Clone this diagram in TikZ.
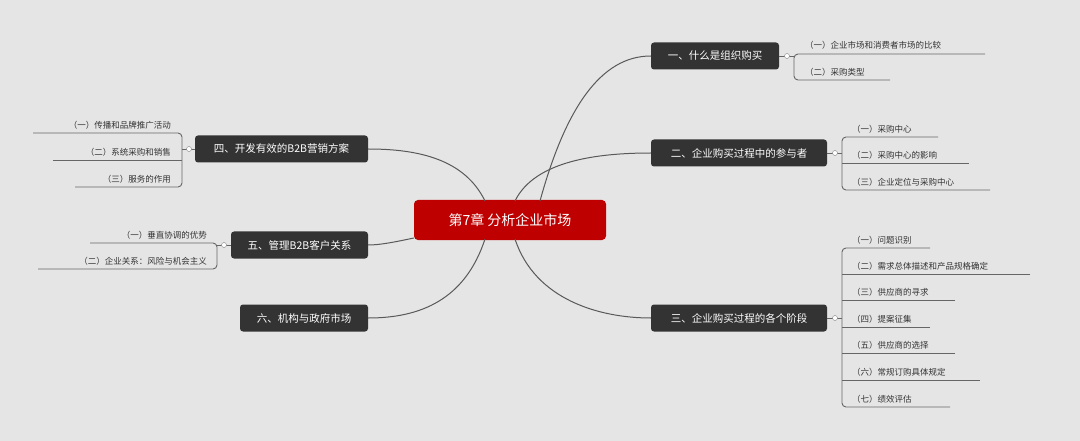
\documentclass[tikz,border=0pt]{standalone}
\usepackage{fontspec}
\setmainfont{Noto Sans CJK SC}
\begin{document}
\begin{tikzpicture}[x=1pt,y=-1pt,
  topic/.style={fill=black!80,rounded corners=3pt,text=white,font=\fontsize{10.5}{12}\selectfont,inner sep=0pt,minimum height=27pt},
  br/.style={draw=black!60,line width=0.9pt,rounded corners=4pt},
  cur/.style={draw=black!65,line width=1pt},
  lab/.style={text=black!80,font=\fontsize{8.5}{10}\selectfont,inner sep=1pt},
  dot/.style={circle,fill=white,draw=black!50,line width=0.4pt,inner sep=0pt,minimum size=5pt}]
\fill[black!10] (0,0) rectangle (1080,441);
\useasboundingbox (0,0) rectangle (1080,441);
% center
\node[fill=red!75!black,rounded corners=4pt,text=white,font=\fontsize{14}{16}\selectfont,minimum width=192pt,minimum height=40pt] (c) at (510,220) {第7章 分析企业市场};
% topics
\node[topic,minimum width=128pt] (t1) at (715,56) {一、什么是组织购买};
\node[topic,minimum width=176pt] (t2) at (739,153) {二、企业购买过程中的参与者};
\node[topic,minimum width=176pt] (t3) at (739,318) {三、企业购买过程的各个阶段};
\node[topic,minimum width=173pt] (t4) at (281.5,149) {四、开发有效的B2B营销方案};
\node[topic,minimum width=137pt] (t5) at (299.5,245) {五、管理B2B客户关系};
\node[topic,minimum width=128pt] (t6) at (304,318) {六、机构与政府市场};
% curves
\draw[cur] (540,201) .. controls (565,110) and (600,56) .. (t1.west);
\draw[cur] (515,201) .. controls (535,160) and (600,153) .. (t2.west);
\draw[cur] (515,239) .. controls (535,300) and (600,318) .. (t3.west);
\draw[cur] (485,201) .. controls (465,160) and (420,149) .. (t4.east);
\draw[cur] (c.west) ++(0,18) .. controls (395,242) and (380,245) .. (t5.east);
\draw[cur] (485,239) .. controls (465,300) and (420,318) .. (t6.east);
% right children: topic 1
\draw[br] (t1.east) -- (794,56);
\draw[br] (985,54) -- (794,54) -- (794,80) -- (890,80);
\node[dot] (d1) at (787,56) {};
\node[lab,anchor=south west] (a1) at (804,51) {（一）企业市场和消费者市场的比较};
\node[lab,anchor=south west] (a2) at (804,78) {（二）采购类型};
% topic 2
\draw[br] (t2.east) -- (842,153);
\draw[br] (938,137) -- (842,137) -- (842,190) -- (990,190);
\draw[br] (842,163) -- (969,163);
\node[dot] (d2) at (835,153) {};
\node[lab,anchor=south west] (b1) at (851,135) {（一）采购中心};
\node[lab,anchor=south west] (b2) at (851,161) {（二）采购中心的影响};
\node[lab,anchor=south west] (b3) at (851,188) {（三）企业定位与采购中心};
% topic 3
\draw[br] (t3.east) -- (842,318);
\draw[br] (930,248) -- (842,248) -- (842,407) -- (950,407);
\draw[br] (842,274) -- (1030,274);
\draw[br] (842,300) -- (955,300);
\draw[br] (842,327) -- (930,327);
\draw[br] (842,353) -- (955,353);
\draw[br] (842,380) -- (980,380);
\node[dot] (d3) at (835,318) {};
\node[lab,anchor=south west] (c1) at (851,246) {（一）问题识别};
\node[lab,anchor=south west] (c2) at (851,272) {（二）需求总体描述和产品规格确定};
\node[lab,anchor=south west] (c3) at (851,298) {（三）供应商的寻求};
\node[lab,anchor=south west] (c4) at (851,325) {（四）提案征集};
\node[lab,anchor=south west] (c5) at (851,351) {（五）供应商的选择};
\node[lab,anchor=south west] (c6) at (851,378) {（六）常规订购具体规定};
\node[lab,anchor=south west] (c7) at (851,405) {（七）绩效评估};
% topic 4
\draw[br] (t4.west) -- (182,149);
\draw[br] (33,133) -- (182,133) -- (182,187) -- (75,187);
\draw[br] (182,160) -- (53,160);
\node[dot] (d4) at (189,149) {};
\node[lab,anchor=south east] (e1) at (172,131) {（一）传播和品牌推广活动};
\node[lab,anchor=south east] (e2) at (172,158) {（二）系统采购和销售};
\node[lab,anchor=south east] (e3) at (172,185) {（三）服务的作用};
% topic 5
\draw[br] (t5.west) -- (217,245);
\draw[br] (90,243) -- (217,243) -- (217,269) -- (38,269);
\node[dot] (d5) at (224,245) {};
\node[lab,anchor=south east] (f1) at (208,241) {（一）垂直协调的优势};
\node[lab,anchor=south east] (f2) at (208,267) {（二）企业关系：风险与机会主义};
\end{tikzpicture}
\end{document}
